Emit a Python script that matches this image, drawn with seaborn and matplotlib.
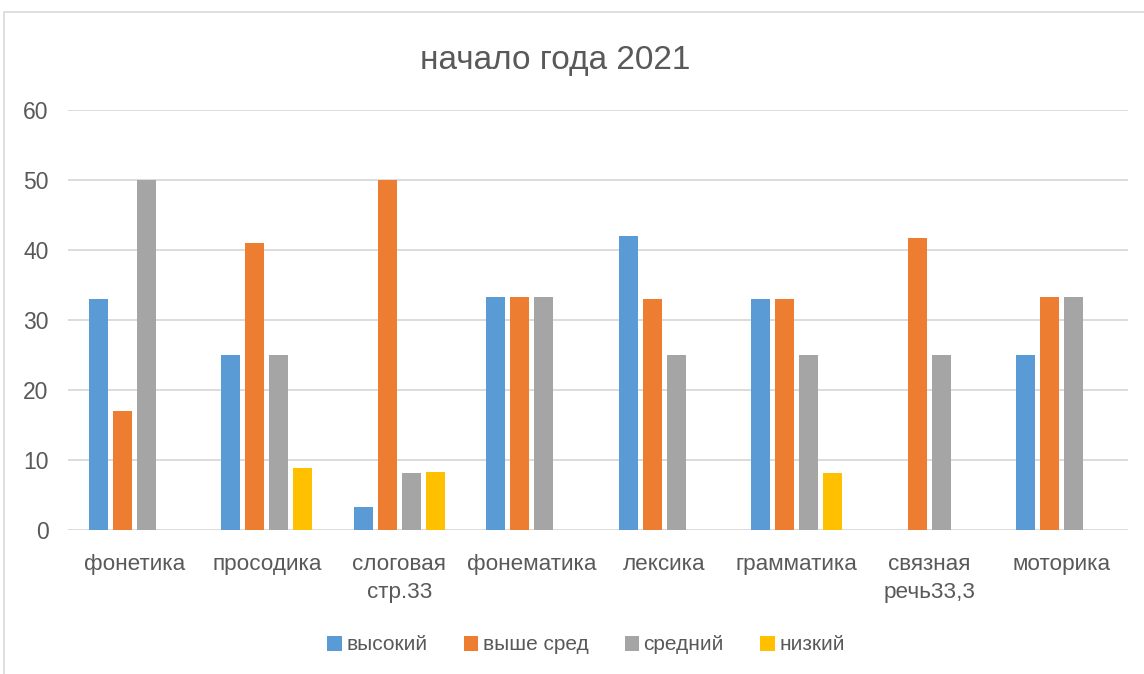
import matplotlib
matplotlib.use("Agg")
import matplotlib.pyplot as plt
import seaborn as sns
import pandas as pd
from matplotlib.patches import Rectangle

categories = ["фонетика", "просодика", "слоговая\nстр.33", "фонематика",
              "лексика", "грамматика", "связная\nречь33,3", "моторика"]
series = ["высокий", "выше сред", "средний", "низкий"]
vysokiy = [33, 25, 3.3, 33.3, 42, 33, 0, 25]
vyshe_sred = [17, 41, 50, 33.3, 33, 33, 41.7, 33.3]
sredniy = [50, 25, 8.2, 33.3, 25, 25, 25, 33.3]
nizkiy = [0, 8.8, 8.3, 0, 0, 8.2, 0, 0]
y_ticks = [0, 10, 20, 30, 40, 50, 60]
title = "начало года 2021"
colors = ["#5B9BD5", "#ED7D31", "#A5A5A5", "#FFC000"]

rows = []
for s, vals in zip(series, [vysokiy, vyshe_sred, sredniy, nizkiy]):
    for c, v in zip(categories, vals):
        rows.append({"cat": c, "series": s, "value": v})
df = pd.DataFrame(rows)

sns.set_theme(style="white")
plt.rcParams["font.family"] = ["Liberation Sans", "DejaVu Sans"]
txt = "#595959"

fig = plt.figure(figsize=(11.44, 6.74), dpi=100)
fig.patches.append(Rectangle((4 / 1144, -0.1), 1.2, (1 - 12 / 674) + 0.1,
                             transform=fig.transFigure, fill=False,
                             edgecolor="#d9d9d9", linewidth=1.2))
ax = fig.add_axes([68 / 1144, 1 - 530 / 674, (1128 - 68) / 1144, (530 - 110) / 674])

sns.barplot(data=df, x="cat", y="value", hue="series", order=categories,
            hue_order=series, palette=colors, width=0.725, gap=0.2,
            linewidth=0, errorbar=None, ax=ax, legend=False, saturation=1)

ax.set_ylim(0, 60)
ax.set_xlim(-0.5, len(categories) - 0.5)
ax.set_yticks(y_ticks)
ax.set_yticklabels([str(t) for t in y_ticks])
ax.yaxis.grid(True, color="#d9d9d9", linewidth=1.3)
ax.set_axisbelow(True)
for sp in ax.spines.values():
    sp.set_visible(False)
ax.set_xlabel("")
ax.set_ylabel("")
ax.tick_params(axis="y", length=0, pad=14, labelsize=16.5, labelcolor=txt)
ax.tick_params(axis="x", length=0, pad=17, labelsize=16.2, labelcolor=txt)
for lbl in ax.get_xticklabels():
    lbl.set_verticalalignment("top")
    lbl.set_linespacing(1.45)

fig.text(555 / 1144, 1 - 61 / 674, title, ha="center", va="center",
         fontsize=24, color=txt)

handles = [Rectangle((0, 0), 1, 1, facecolor=c, edgecolor="none") for c in colors]
fig.legend(handles, series, loc="center", bbox_to_anchor=(586 / 1144, 1 - 645 / 674),
           ncol=4, frameon=False, fontsize=15, labelcolor=txt,
           handlelength=0.7, handleheight=0.7, handletextpad=0.2,
           columnspacing=1.75)

fig.savefig("out.png", dpi=100)
